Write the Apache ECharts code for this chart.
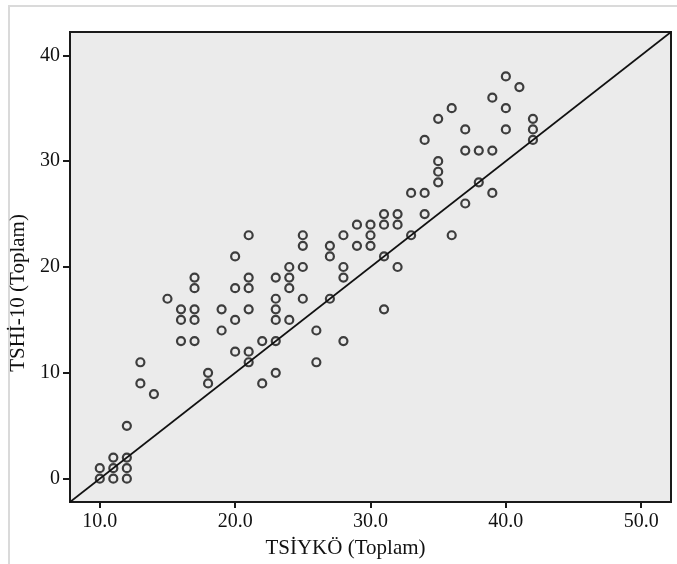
<!DOCTYPE html>
<html>
<head>
<meta charset="utf-8">
<script src="https://cdn.jsdelivr.net/npm/echarts@6/dist/echarts.min.js"></script>
<style>
html,body{margin:0;padding:0;background:#fff;}
#chart{width:677px;height:564px;}
</style>
</head>
<body>
<div id="chart"></div>
<script>
// TSİYKÖ (x) vs TSHİ-10 (y) totals
const xValues = [10,10, 11,11,11, 12,12,12,12, 13,13, 14, 15, 16,16,16, 17,17,17,17,17, 18,18, 19,19,
  20,20,20,20, 21,21,21,21,21,21, 22,22, 23,23,23,23,23,23, 24,24,24,24, 25,25,25,25, 26,26,
  27,27,27, 28,28,28,28, 29,29, 30,30,30, 31,31,31,31, 32,32,32, 33,33, 34,34,34, 35,35,35,35,
  36,36, 37,37,37, 38,38, 39,39,39, 40,40,40, 41, 42,42,42];
const yValues = [0,1, 0,1,2, 0,1,2,5, 9,11, 8, 17, 13,15,16, 13,15,16,18,19, 9,10, 14,16,
  12,15,18,21, 11,12,16,18,19,23, 9,13, 10,13,15,16,17,19, 15,18,19,20, 17,20,22,23, 11,14,
  17,21,22, 13,19,20,23, 22,24, 22,23,24, 16,21,24,25, 20,24,25, 23,27, 25,27,32, 28,29,30,34,
  23,35, 26,31,33, 28,31, 27,31,36, 33,35,38, 37, 32,33,34];
const xTicks = [10, 20, 30, 40, 50];
const yTicks = [0, 10, 20, 30, 40];
const xRange = [7.8, 52.2];
const yRange = [-2.2, 42.2];
const refOffset = 10; // reference line y = x - 10
const refLine = [[xRange[0], xRange[0] - refOffset], [xRange[1], xRange[1] - refOffset]];

const points = xValues.map((x, i) => [x, yValues[i]]);
const font = 'Liberation Serif';

const chart = echarts.init(document.getElementById('chart'), null, {renderer: 'canvas'});
chart.setOption({
  animation: false,
  backgroundColor: '#fff',
  graphic: [{
    type: 'rect',
    shape: {x: 9, y: 6, width: 720, height: 620},
    style: {fill: 'none', stroke: '#dadada', lineWidth: 2},
    silent: true,
    z: -10
  }],
  grid: {
    left: 70, right: 6, top: 32, bottom: 62,
    show: true, backgroundColor: '#ebebeb', borderColor: '#1a1a1a', borderWidth: 2
  },
  xAxis: {
    type: 'value', min: xRange[0], max: xRange[1],
    name: 'TSİYKÖ (Toplam)', nameLocation: 'middle', nameGap: 36,
    nameTextStyle: {fontFamily: font, fontSize: 21, color: '#111', padding: [0, 50, 0, 0]},
    axisLine: {show: true, onZero: false, lineStyle: {color: '#1a1a1a', width: 2}},
    axisTick: {show: true, length: 6, customValues: xTicks, lineStyle: {color: '#1a1a1a', width: 2}},
    axisLabel: {customValues: xTicks, margin: 10, fontFamily: font, fontSize: 20, color: '#111',
      formatter: v => v.toFixed(1)},
    splitLine: {show: false}
  },
  yAxis: {
    type: 'value', min: yRange[0], max: yRange[1],
    name: 'TSHİ-10 (Toplam)', nameLocation: 'middle', nameGap: 36,
    nameTextStyle: {fontFamily: font, fontSize: 21, color: '#111', padding: [0, 52, 0, 0]},
    axisLine: {show: true, onZero: false, lineStyle: {color: '#1a1a1a', width: 2}},
    axisTick: {show: true, length: 7, customValues: yTicks, lineStyle: {color: '#1a1a1a', width: 2}},
    axisLabel: {customValues: yTicks, margin: 10, fontFamily: font, fontSize: 20, color: '#111'},
    splitLine: {show: false}
  },
  series: [
    {
      type: 'line', data: refLine, showSymbol: false, silent: true,
      lineStyle: {color: '#111', width: 1.6}, z: 1
    },
    {
      type: 'scatter', data: points, symbol: 'circle', symbolSize: 8,
      itemStyle: {color: 'rgba(0,0,0,0)', borderColor: '#111', borderWidth: 2.2}, z: 2
    }
  ]
});
</script>
</body>
</html>
